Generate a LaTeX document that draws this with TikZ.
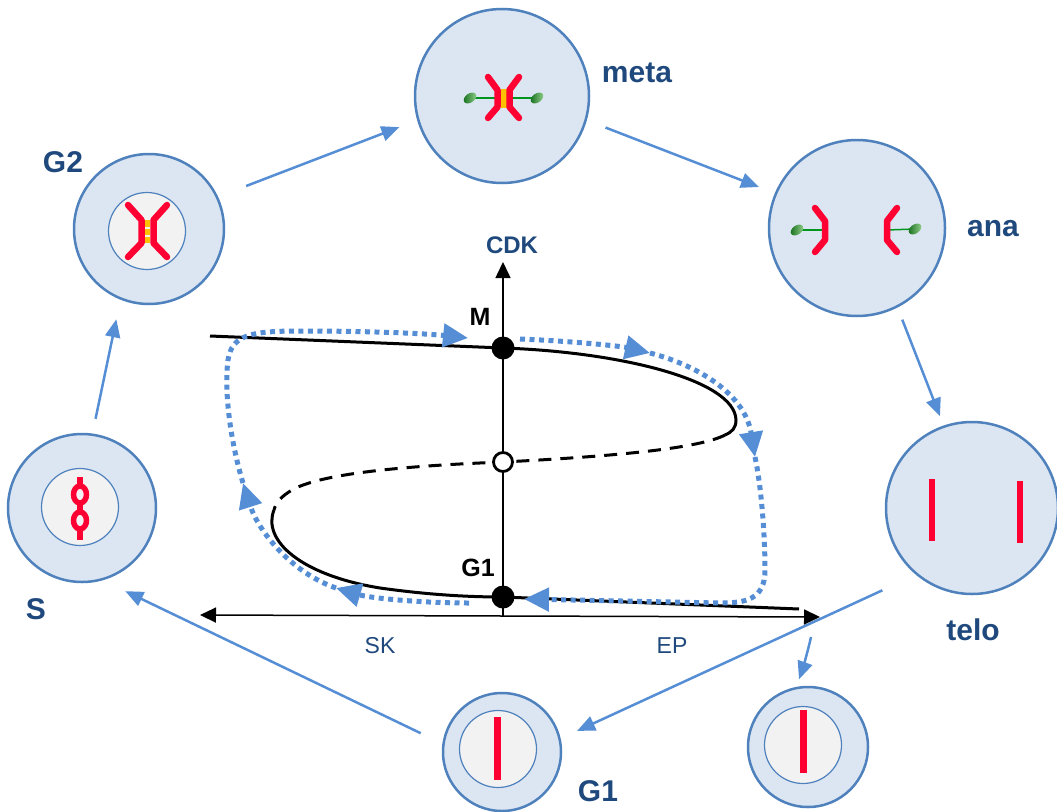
\documentclass[tikz,border=0pt]{standalone}
\usepackage{fontspec}
\setmainfont{Liberation Sans}
\usetikzlibrary{arrows.meta}

\definecolor{cellblue}{RGB}{79,129,189}
\definecolor{cellfill}{RGB}{220,230,242}
\definecolor{nucfill}{RGB}{242,242,242}
\definecolor{flowblue}{RGB}{85,142,213}
\definecolor{labelblue}{RGB}{31,73,125}
\definecolor{chromred}{RGB}{255,0,51}
\definecolor{cohesin}{RGB}{255,192,0}
\definecolor{spgreen}{RGB}{0,150,30}
\definecolor{poledark}{RGB}{20,110,30}
\definecolor{polelight}{RGB}{150,210,140}

\begin{document}
\begin{tikzpicture}[x=1pt,y=-1pt,
    cell/.style={circle,draw=cellblue,fill=cellfill,line width=2.5pt,inner sep=0pt},
    nucleus/.style={circle,draw=cellblue,fill=nucfill,line width=1.2pt,inner sep=0pt,minimum size=77pt},
    phase/.style={font=\fontsize{30}{30}\selectfont\bfseries,text=labelblue},
    chrom/.style={draw=chromred,line width=6.5pt,line join=round,line cap=round},
    spindle/.style={draw=spgreen,line width=1.5pt},
    cyclearrow/.style={draw=flowblue,line width=2.5pt,-{Triangle[length=18pt,width=15pt]}},
    cdkaxis/.style={line width=1.5pt,-{Triangle[length=16pt,width=15pt]}},
    traj/.style={draw=flowblue,line width=5pt,dash pattern=on 5pt off 4.5pt,-{Triangle[length=25pt,width=23pt]}},
    steady/.style={circle,fill,inner sep=0pt,minimum size=23pt},
    unsteady/.style={circle,draw,fill=white,line width=2.8pt,inner sep=0pt,minimum size=19pt}]
  \useasboundingbox (0,0) rectangle (1057,811);

  % cells of the cycle
  \node[cell,minimum size=174pt] (meta) at (502,96) {};
  \node[cell,minimum size=176pt] (ana) at (857,228) {};
  \node[cell,minimum size=172pt] (telo) at (972,508) {};
  \node[cell,minimum size=150pt] (g2) at (149,229) {};
  \node[cell,minimum size=148pt] (s) at (82,508) {};
  \node[cell,minimum size=118pt] (g1) at (502,752) {};
  \node[cell,minimum size=120pt] (g1b) at (808,747) {};
  \node[nucleus] (g2nuc) at (147,231) {};
  \node[nucleus] (snuc) at (80,507) {};
  \node[nucleus] (g1nuc) at (498,749) {};
  \node[nucleus] (g1bnuc) at (803,745) {};

  % metaphase: spindle and paired chromatids
  \draw[spindle] (470,98) -- (537,98);
  \shade[left color=poledark,right color=polelight,shift={(470,98)},rotate=35] (0,0) ellipse (7 and 4.5);
  \shade[left color=poledark,right color=polelight,shift={(537,98)},rotate=35] (0,0) ellipse (7 and 4.5);
  \fill[cohesin] (500.5,89) rectangle (506.5,108);
  \draw[chrom] (488,77) -- (497.5,90) -- (497.5,107) -- (488,118);
  \draw[chrom] (519,77) -- (509.5,90) -- (509.5,107) -- (519,118);

  % anaphase
  \draw[spindle] (797,230) -- (825,230);
  \draw[spindle] (887,230) -- (915,229);
  \shade[left color=poledark,right color=polelight,shift={(797,230)},rotate=35] (0,0) ellipse (7 and 4.5);
  \shade[left color=poledark,right color=polelight,shift={(915,229)},rotate=35] (0,0) ellipse (7 and 4.5);
  \draw[chrom] (815,208) -- (825,221) -- (825,240) -- (815,252);
  \draw[chrom] (897,208) -- (887,221) -- (887,240) -- (897,252);

  % telophase
  \draw[chrom,line cap=butt] (932,479) -- (932,541);
  \draw[chrom,line cap=butt] (1020,481) -- (1020,543);

  % G2
  \fill[cohesin] (145,220) rectangle (150,226.5);
  \fill[cohesin] (145,228.5) rectangle (150,234.5);
  \fill[cohesin] (145,236.5) rectangle (150,243);
  \draw[chrom] (128,205) -- (141.5,220) -- (141.5,243) -- (128,257);
  \draw[chrom] (167,205) -- (153.5,220) -- (153.5,243) -- (167,257);

  % S phase, replication bubbles
  \draw[chrom,line cap=butt] (80,477) -- (80,540);
  \draw[chrom,line width=5.5pt,fill=nucfill] (80,494.5) ellipse (6.5 and 8.5);
  \draw[chrom,line width=5.5pt,fill=nucfill] (80,520.5) ellipse (6.5 and 8.5);

  % G1 daughters
  \draw[chrom,line cap=butt] (497.5,717) -- (497.5,780);
  \draw[chrom,line cap=butt] (803.5,710) -- (803.5,773);

  % phase names
  \node[phase] (metalbl) at (637,73) {meta};
  \node[phase] (analbl) at (993,229) {ana};
  \node[phase] (telolbl) at (973,630) {telo};
  \node[phase] (g2lbl) at (63,162) {G2};
  \node[phase] (slbl) at (36,609) {S};
  \node[phase] (g1lbl) at (598,791) {G1};

  % arrows round the cycle
  \draw[cyclearrow,shorten <=30pt,shorten >=19pt] (g2.25) -- (meta.196);
  \draw[cyclearrow,shorten <=20pt,shorten >=17pt] (meta.-16) -- (ana.157);
  \draw[cyclearrow,shorten <=13pt,shorten >=10pt] (ana.297) -- (telo.109);
  \draw[cyclearrow,shorten <=37pt,shorten >=18pt] (telo.230) -- (g1.13);
  \draw[cyclearrow,shorten <=24pt,shorten >=25pt] (g1.172) -- (s.286);
  \draw[cyclearrow,shorten <=15pt,shorten >=20pt] (s.82) -- (g2.248);
  \coordinate (split) at (811,637);
  \draw[cyclearrow,shorten >=8pt] (split) .. controls +(-3,14) and +(5,-14) .. (g1b.101);

  % CDK axes
  \coordinate (o) at (503,616);
  \draw[cdkaxis] (o) -- (503,262);
  \node[font=\fontsize{24}{24}\selectfont\bfseries,text=labelblue] (cdk) at (512,245) {CDK};
  \draw[cdkaxis] (o) -- (200,615);
  \draw[cdkaxis] (o) -- (820,617);
  \node[font=\fontsize{23}{23}\selectfont,text=labelblue] (sk) at (380,646) {SK};
  \node[font=\fontsize{23}{23}\selectfont,text=labelblue] (ep) at (672,646) {EP};

  % S-shaped nullcline
  \draw[line width=3pt] (210,336) -- (503,348) .. controls (620,352) and (735,380) .. (736,420)
    .. controls (736,428) and (732,432) .. (725,435);
  \draw[line width=3pt,dash pattern=on 13pt off 9pt] (725,435) .. controls (700,448) and (620,456) .. (503,462)
    .. controls (400,466) and (320,474) .. (292,490) .. controls (282,496) and (276,502) .. (274,510);
  \draw[line width=3pt] (274,510) .. controls (262,540) and (300,575) .. (380,588)
    .. controls (430,595) and (470,597) .. (503,597) -- (799,609);

  % trajectory of the oscillator
  \draw[traj] (469,603) .. controls (420,603) and (370,598) .. (336,588);
  \draw[traj] (336,588) .. controls (290,572) and (258,530) .. (243,483);
  \draw[traj] (243,483) .. controls (230,440) and (224,390) .. (228,360)
    .. controls (232,335) and (250,331) .. (300,331) .. controls (380,331) and (430,334) .. (468,338);
  \draw[traj] (520,339) .. controls (570,341) and (620,346) .. (650,353);
  \draw[traj] (650,353) .. controls (700,366) and (745,395) .. (755,457);
  \draw[traj] (755,457) .. controls (762,490) and (765,540) .. (765,570)
    .. controls (765,600) and (745,603) .. (720,603) -- (524,599);

  % steady states
  \node[steady] (mpt) at (503,348) {};
  \node[unsteady] (upt) at (503,462) {};
  \node[steady] (gpt) at (503,597) {};
  \node[font=\fontsize{25}{25}\selectfont\bfseries] (mlbl) at (480,317) {M};
  \node[font=\fontsize{25}{25}\selectfont\bfseries] (glbl) at (478,568) {G1};
\end{tikzpicture}
\end{document}
